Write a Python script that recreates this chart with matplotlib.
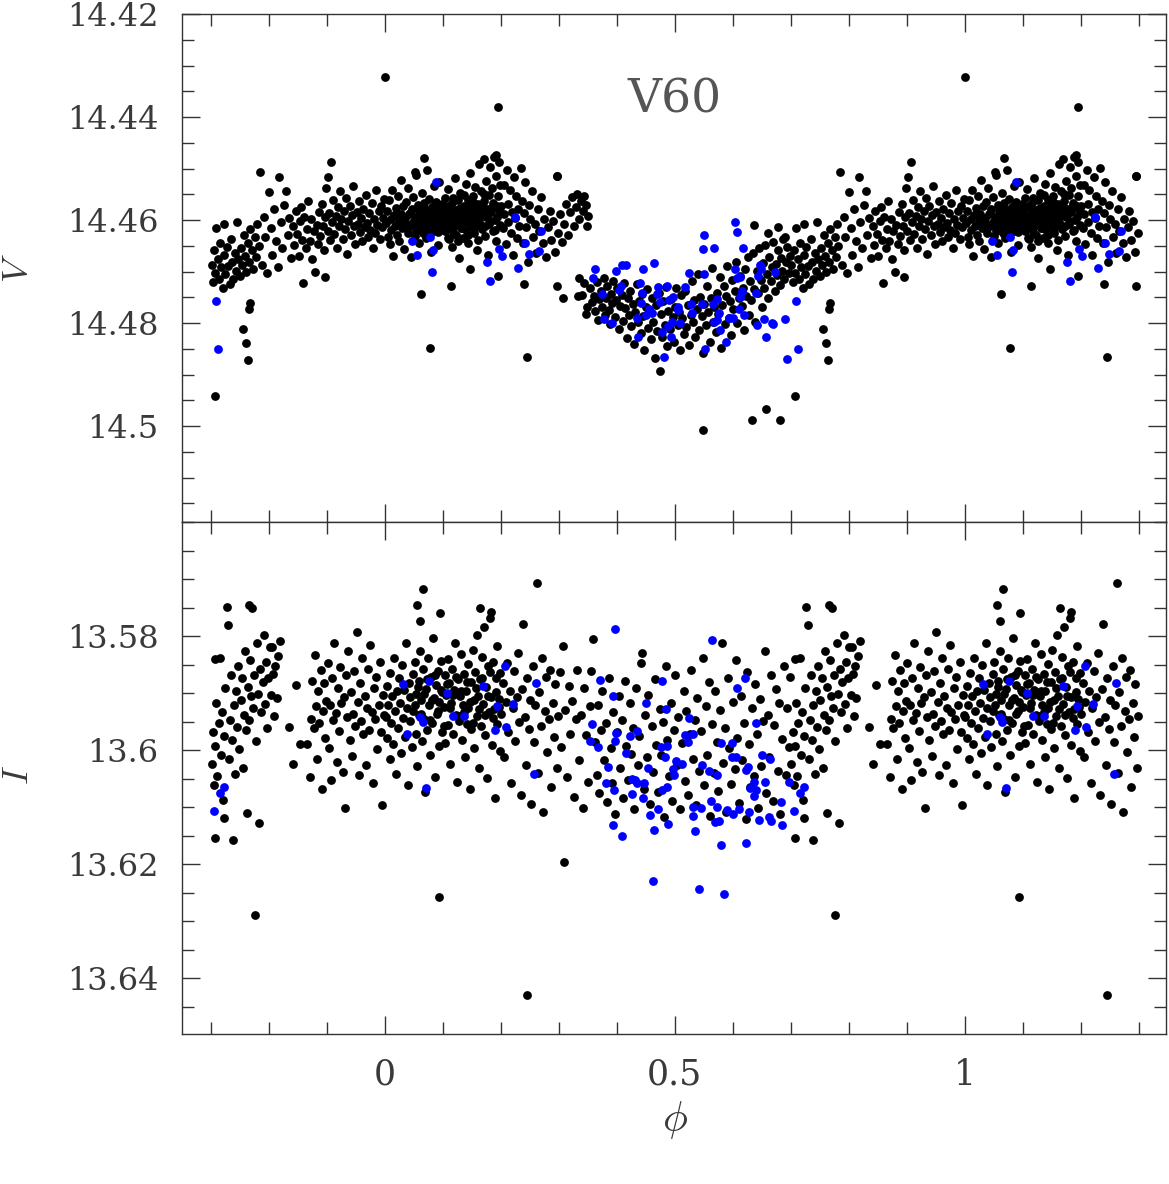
import numpy as np
import matplotlib
matplotlib.use("Agg")
import matplotlib.pyplot as plt
from matplotlib.ticker import FixedLocator, MultipleLocator, FuncFormatter

# ---------------- data (phase in [0,1), magnitude) ----------------
STAR = "V60"

V_MAX_BLACK = [
    (0.002,14.4605),(0.004,14.4583),(0.005,14.4632),(0.007,14.4561),(0.008,14.4647),(0.010,14.4598),
    (0.011,14.4619),(0.013,14.4542),(0.014,14.4669),(0.016,14.4591),(0.017,14.4612),(0.019,14.4576),
    (0.021,14.4628),(0.022,14.4553),(0.024,14.4601),(0.025,14.4641),(0.027,14.4588),(0.028,14.4522),
    (0.030,14.4615),(0.031,14.4573),(0.033,14.4657),(0.034,14.4596),(0.036,14.4607),(0.037,14.4564),
    (0.039,14.4625),(0.040,14.4538),(0.042,14.4589),(0.043,14.4611),(0.045,14.4672),(0.046,14.4579),
    (0.048,14.4603),(0.049,14.4556),(0.051,14.4631),(0.052,14.4594),(0.054,14.4512),(0.055,14.4618),
    (0.057,14.4571),(0.058,14.4644),(0.060,14.4597),(0.061,14.4585),(0.063,14.4609),(0.064,14.4548),
    (0.066,14.4626),(0.067,14.4567),(0.069,14.4592),(0.070,14.4635),(0.072,14.4503),(0.073,14.4581),
    (0.075,14.4613),(0.076,14.4559),(0.078,14.4598),(0.079,14.4662),(0.081,14.4574),(0.082,14.4606),
    (0.084,14.4533),(0.085,14.4621),(0.087,14.4587),(0.088,14.4564),(0.090,14.4602),(0.091,14.4648),
    (0.093,14.4578),(0.094,14.4527),(0.096,14.4595),(0.097,14.4616),(0.099,14.4569),
    (0.100,14.4601),(0.101,14.4583),(0.103,14.4622),(0.104,14.4558),(0.105,14.4611),(0.107,14.4594),
    (0.108,14.4539),(0.110,14.4637),(0.111,14.4576),(0.112,14.4605),(0.114,14.4589),(0.115,14.4652),
    (0.116,14.4567),(0.118,14.4613),(0.119,14.4596),(0.120,14.4518),(0.122,14.4628),(0.123,14.4581),
    (0.124,14.4604),(0.126,14.4561),(0.127,14.4673),(0.128,14.4592),(0.130,14.4547),(0.131,14.4615),
    (0.132,14.4586),(0.134,14.4603),(0.135,14.4634),(0.136,14.4572),(0.138,14.4598),(0.139,14.4529),
    (0.140,14.4619),(0.142,14.4583),(0.143,14.4561),(0.144,14.4644),(0.146,14.4595),(0.147,14.4508),
    (0.148,14.4578),(0.150,14.4612),(0.151,14.4589),(0.152,14.4554),(0.154,14.4626),(0.155,14.4597),
    (0.156,14.4535),(0.158,14.4581),(0.159,14.4659),(0.160,14.4568),(0.162,14.4491),(0.163,14.4604),
    (0.164,14.4576),(0.166,14.4543),(0.167,14.4618),(0.168,14.4587),(0.170,14.4482),(0.171,14.4562),
    (0.172,14.4631),(0.174,14.4594),(0.175,14.4524),(0.176,14.4579),(0.178,14.4668),(0.179,14.4551),
    (0.180,14.4607),(0.182,14.4496),(0.183,14.4585),(0.184,14.4538),(0.186,14.4622),(0.187,14.4566),
    (0.188,14.4477),(0.190,14.4599),(0.191,14.4515),(0.192,14.4641),(0.194,14.4572),(0.195,14.4553),
    (0.196,14.4488),(0.198,14.4609),(0.199,14.4532),
]

V_CORE_BLACK = [
    (0.032,14.4598),(0.038,14.4612),(0.044,14.4587),(0.050,14.4606),(0.053,14.4621),(0.059,14.4583),
    (0.062,14.4595),(0.065,14.4611),(0.068,14.4578),(0.071,14.4603),(0.074,14.4627),(0.077,14.4589),
    (0.080,14.4614),(0.083,14.4596),(0.086,14.4571),(0.089,14.4608),(0.092,14.4623),(0.095,14.4581),
    (0.098,14.4604),(0.102,14.4592),(0.106,14.4616),(0.109,14.4573),(0.113,14.4599),(0.117,14.4624),
    (0.121,14.4586),(0.125,14.4609),(0.129,14.4577),(0.133,14.4615),(0.137,14.4591),(0.141,14.4603),
    (0.145,14.4569),(0.149,14.4596),(0.153,14.4618),(0.157,14.4582),(0.161,14.4607),(0.165,14.4593),
    (0.169,14.4575),(0.173,14.4612),(0.177,14.4588),(0.181,14.4601),(0.185,14.4574),(0.189,14.4619),
    (0.193,14.4594),(0.197,14.4581),(0.109,14.4634),(0.126,14.4641),(0.143,14.4628),(0.160,14.4639),
    (0.118,14.4558),(0.137,14.4552),(0.152,14.4565),(0.171,14.4549),
]

V_DESC_BLACK = [
    (0.201,14.4572),(0.203,14.4615),(0.205,14.4531),(0.206,14.4589),(0.208,14.4647),(0.210,14.4502),
    (0.212,14.4568),(0.213,14.4603),(0.215,14.4541),(0.217,14.4625),(0.219,14.4584),(0.220,14.4668),
    (0.222,14.4517),(0.224,14.4596),(0.226,14.4553),(0.228,14.4634),(0.230,14.4579),(0.232,14.4611),
    (0.234,14.4498),(0.236,14.4562),(0.238,14.4645),(0.240,14.4587),(0.242,14.4526),(0.244,14.4613),
    (0.247,14.4681),(0.249,14.4571),(0.251,14.4598),(0.254,14.4544),(0.256,14.4632),(0.259,14.4607),
    (0.261,14.4663),(0.264,14.4579),(0.266,14.4621),(0.269,14.4556),(0.272,14.4645),(0.275,14.4597),
    (0.278,14.4672),(0.281,14.4613),(0.284,14.4583),(0.287,14.4639),(0.290,14.4602),(0.293,14.4661),
    (0.296,14.4515),(0.299,14.4626),(0.302,14.4588),(0.306,14.4643),(0.309,14.4607),(0.313,14.4569),
    (0.316,14.4628),(0.320,14.4585),(0.323,14.4556),(0.326,14.4612),(0.329,14.4574),(0.332,14.4549),
    (0.335,14.4597),(0.338,14.4562),(0.341,14.4583),(0.344,14.4554),(0.347,14.4571),(0.350,14.4593),
    (0.348,14.4612),(0.335,14.4712),(0.340,14.4745),(0.344,14.4723),(0.349,14.4768),(0.353,14.4732),
    (0.357,14.4759),(0.307,14.4751),(0.333,14.4747),(0.346,14.4783),(0.240,14.4725),(0.296,14.4728),
    (0.195,14.4709),(0.114,14.4728),(0.147,14.4695),
]

V_MIN_BLACK = [
    (0.361,14.4748),(0.363,14.4776),(0.366,14.4721),(0.368,14.4793),(0.370,14.4754),(0.372,14.4738),
    (0.375,14.4769),(0.377,14.4712),(0.379,14.4785),(0.381,14.4751),(0.383,14.4727),(0.386,14.4774),
    (0.388,14.4802),(0.390,14.4743),(0.392,14.4761),(0.394,14.4719),(0.397,14.4788),(0.399,14.4755),
    (0.401,14.4732),(0.403,14.4812),(0.406,14.4767),(0.408,14.4746),(0.410,14.4795),(0.412,14.4723),
    (0.414,14.4771),(0.417,14.4829),(0.419,14.4752),(0.421,14.4784),(0.423,14.4738),(0.425,14.4806),
    (0.428,14.4763),(0.430,14.4841),(0.432,14.4779),(0.434,14.4725),(0.436,14.4797),(0.439,14.4758),
    (0.441,14.4819),(0.443,14.4744),(0.445,14.4786),(0.447,14.4852),(0.450,14.4768),(0.452,14.4733),
    (0.454,14.4809),(0.456,14.4775),(0.458,14.4831),(0.461,14.4752),(0.463,14.4797),(0.465,14.4868),
    (0.467,14.4764),(0.469,14.4815),(0.472,14.4741),(0.474,14.4892),(0.476,14.4783),(0.478,14.4826),
    (0.480,14.4757),(0.483,14.4804),(0.485,14.4729),(0.487,14.4845),(0.489,14.4776),(0.491,14.4812),
    (0.494,14.4754),(0.496,14.4789),(0.498,14.4837),(0.500,14.4768),(0.502,14.4731),(0.505,14.4803),
    (0.507,14.4779),(0.509,14.4852),(0.511,14.4746),(0.513,14.4791),(0.516,14.4822),(0.518,14.4737),
    (0.520,14.4808),(0.522,14.4764),(0.524,14.4843),(0.527,14.4785),(0.529,14.4719),(0.531,14.4797),
    (0.533,14.4756),(0.535,14.4826),(0.538,14.4772),(0.540,14.4705),(0.542,14.4814),(0.544,14.4749),
    (0.546,14.4787),(0.549,14.4858),(0.551,14.4762),(0.553,14.4803),(0.555,14.4728),(0.557,14.4779),
    (0.560,14.4836),(0.562,14.4751),(0.564,14.4693),(0.566,14.4798),(0.568,14.4769),(0.571,14.4817),
    (0.573,14.4742),(0.575,14.4783),(0.577,14.4711),(0.579,14.4849),(0.582,14.4765),(0.584,14.4728),
    (0.586,14.4802),(0.588,14.4747),(0.590,14.4689),(0.593,14.4791),(0.595,14.4758),(0.597,14.4824),
    (0.599,14.4716),(0.601,14.4773),(0.604,14.4738),(0.606,14.4681),(0.608,14.4799),(0.610,14.4752),
    (0.612,14.4709),(0.615,14.4766),(0.617,14.4731),(0.619,14.4813),(0.621,14.4694),(0.623,14.4748),
    (0.626,14.4672),(0.628,14.4785),(0.630,14.4719),(0.632,14.4756),(0.634,14.4663),(0.637,14.4734),
    (0.639,14.4797),(0.641,14.4698),(0.643,14.4742),(0.645,14.4655),(0.648,14.4717),(0.650,14.4769),
    (0.652,14.4683),(0.654,14.4731),(0.656,14.4648),(0.659,14.4704),(0.661,14.4752),(0.663,14.4671),
    (0.665,14.4719),(0.667,14.4692),(0.670,14.4643),(0.672,14.4738),(0.674,14.4685),(0.676,14.4707),
    (0.678,14.4659),(0.681,14.4726),(0.683,14.4674),(0.685,14.4698),(0.687,14.4636),(0.689,14.4715),
    (0.692,14.4681),(0.694,14.4652),(0.696,14.4703),(0.698,14.4669),
    (0.636,14.4609),(0.660,14.4625),(0.678,14.4614),(0.690,14.4632),
]

V_RISE_BLACK = [
    (0.701,14.4688),(0.703,14.4721),(0.705,14.4659),(0.707,14.4702),(0.709,14.4616),(0.712,14.4676),
    (0.714,14.4714),(0.716,14.4645),(0.718,14.4692),(0.721,14.4731),(0.722,14.4607),(0.723,14.4668),
    (0.725,14.4705),(0.727,14.4652),(0.729,14.4689),(0.732,14.4724),(0.734,14.4637),(0.736,14.4681),
    (0.738,14.4715),(0.741,14.4663),(0.743,14.4698),(0.745,14.4604),(0.747,14.4676),(0.750,14.4709),
    (0.752,14.4654),(0.754,14.4687),(0.757,14.4628),(0.759,14.4669),(0.761,14.4701),(0.764,14.4645),
    (0.766,14.4682),(0.768,14.4617),(0.771,14.4658),(0.773,14.4694),(0.776,14.4633),(0.778,14.4672),
    (0.780,14.4607),(0.782,14.4651),(0.785,14.4507),(0.788,14.4688),(0.791,14.4594),(0.794,14.4632),
    (0.797,14.4703),(0.800,14.4546),(0.803,14.4615),(0.806,14.4667),(0.809,14.4578),(0.812,14.4641),
    (0.815,14.4692),(0.817,14.4517),(0.820,14.4603),(0.823,14.4654),(0.826,14.4571),(0.829,14.4544),
    (0.832,14.4628),(0.835,14.4595),(0.838,14.4673),(0.841,14.4612),(0.843,14.4648),(0.846,14.4583),
    (0.848,14.4627),(0.851,14.4669),(0.853,14.4601),(0.855,14.4574),(0.857,14.4638),(0.859,14.4722),
    (0.861,14.4594),(0.864,14.4655),(0.866,14.4617),(0.868,14.4563),(0.870,14.4641),(0.873,14.4598),
    (0.875,14.4676),(0.877,14.4622),(0.879,14.4701),(0.882,14.4609),(0.884,14.4647),(0.886,14.4585),
    (0.888,14.4631),(0.891,14.4568),(0.893,14.4612),(0.895,14.4659),(0.896,14.4710),(0.897,14.4594),
    (0.899,14.4537),(0.901,14.4621),(0.902,14.4517),(0.904,14.4586),(0.906,14.4639),(0.907,14.4487),
    (0.909,14.4603),(0.911,14.4561),(0.913,14.4627),(0.915,14.4592),(0.917,14.4654),(0.919,14.4574),
    (0.921,14.4611),(0.923,14.4543),(0.925,14.4598),(0.927,14.4636),(0.929,14.4582),(0.931,14.4617),
    (0.933,14.4558),(0.935,14.4665),(0.937,14.4601),(0.939,14.4573),(0.941,14.4628),(0.943,14.4591),
    (0.945,14.4534),(0.947,14.4612),(0.949,14.4647),(0.951,14.4585),(0.953,14.4607),(0.955,14.4562),
    (0.957,14.4623),(0.959,14.4596),(0.961,14.4641),(0.963,14.4578),(0.965,14.4613),(0.967,14.4551),
    (0.969,14.4605),(0.971,14.4632),(0.973,14.4587),(0.975,14.4619),(0.977,14.4566),(0.979,14.4654),
    (0.981,14.4598),(0.983,14.4625),(0.985,14.4541),(0.987,14.4609),(0.989,14.4583),(0.991,14.4637),
    (0.993,14.4572),(0.995,14.4614),(0.997,14.4595),(0.999,14.4559),
]

V_OUTLIERS = [
    (0.000,14.4322),(0.195,14.4380),(0.192,14.4474),(0.067,14.4480),(0.052,14.4507),(0.062,14.4744),
    (0.078,14.4849),(0.245,14.4866),(0.296,14.4515),(0.548,14.5008),(0.633,14.4988),(0.657,14.4967),
    (0.681,14.4988),(0.707,14.4942),(0.755,14.4812),(0.760,14.4839),(0.764,14.4872),(0.767,14.4761),
    (0.766,14.4773),
]

V_BLUE = [
    (0.047,14.4641),(0.078,14.4633),(0.083,14.4658),(0.055,14.4668),(0.081,14.4701),(0.088,14.4526),
    (0.176,14.4682),(0.181,14.4718),(0.197,14.4656),(0.202,14.4670),(0.224,14.4594),(0.229,14.4693),
    (0.241,14.4645),(0.248,14.4666),(0.266,14.4660),(0.269,14.4621),
    (0.359,14.4713),(0.362,14.4695),(0.374,14.4744),(0.377,14.4792),(0.391,14.4800),(0.399,14.4699),
    (0.407,14.4728),(0.404,14.4735),(0.409,14.4687),(0.415,14.4687),(0.434,14.4790),(0.436,14.4827),
    (0.440,14.4722),(0.441,14.4761),(0.443,14.4741),(0.445,14.4695),(0.450,14.4784),(0.455,14.4773),
    (0.460,14.4780),(0.464,14.4683),(0.471,14.4730),(0.470,14.4744),(0.474,14.4759),(0.477,14.4817),
    (0.481,14.4866),(0.486,14.4728),(0.488,14.4806),(0.490,14.4755),(0.493,14.4827),(0.495,14.4798),
    (0.497,14.4750),(0.505,14.4775),(0.506,14.4769),(0.508,14.4800),(0.517,14.4730),(0.524,14.4703),
    (0.528,14.4763),(0.529,14.4781),(0.547,14.4763),(0.548,14.4656),(0.550,14.4629),(0.551,14.4705),
    (0.552,14.4850),(0.565,14.4763),(0.567,14.4654),(0.567,14.4798),(0.572,14.4753),(0.572,14.4794),
    (0.576,14.4781),(0.578,14.4813),(0.589,14.4837),(0.593,14.4790),(0.600,14.4790),(0.603,14.4604),
    (0.603,14.4695),(0.607,14.4623),(0.607,14.4713),(0.612,14.4711),(0.612,14.4750),(0.615,14.4738),
    (0.610,14.4773),(0.617,14.4654),(0.620,14.4784),(0.640,14.4742),(0.641,14.4804),(0.643,14.4709),
    (0.647,14.4687),(0.648,14.4695),(0.653,14.4792),(0.657,14.4827),(0.667,14.4800),(0.670,14.4801),
    (0.672,14.4701),(0.690,14.4792),(0.693,14.4870),(0.709,14.4757),(0.712,14.4850),
]

I_MAX_BLACK = [
    (0.001,13.5942),(0.003,13.5887),(0.004,13.5978),(0.006,13.5921),(0.008,13.6015),(0.009,13.5864),
    (0.011,13.5953),(0.013,13.5906),(0.014,13.5989),(0.016,13.5838),(0.018,13.5931),(0.019,13.6042),
    (0.021,13.5897),(0.023,13.5962),(0.024,13.5874),(0.026,13.5918),(0.028,13.6006),(0.029,13.5851),
    (0.031,13.5944),(0.033,13.5895),(0.034,13.5977),(0.036,13.5812),(0.038,13.5926),(0.039,13.6061),
    (0.041,13.5883),(0.043,13.5949),(0.044,13.5907),(0.046,13.5995),(0.048,13.5866),(0.049,13.5932),
    (0.051,13.5846),(0.053,13.5971),(0.054,13.5901),(0.056,13.6028),(0.058,13.5878),(0.059,13.5939),
    (0.061,13.5827),(0.063,13.5912),(0.064,13.5984),(0.066,13.5857),(0.068,13.5946),(0.069,13.6073),
    (0.071,13.5893),(0.073,13.5964),(0.074,13.5838),(0.076,13.5921),(0.078,13.6009),(0.079,13.5872),
    (0.081,13.5953),(0.083,13.5804),(0.084,13.5908),(0.086,13.6047),(0.088,13.5886),(0.089,13.5937),
    (0.091,13.5861),(0.093,13.5992),(0.094,13.5915),(0.096,13.5843),(0.098,13.5968),(0.099,13.5899),
    (0.101,13.5924),(0.103,13.5869),(0.104,13.5987),(0.106,13.5903),(0.108,13.5841),(0.109,13.5956),
    (0.111,13.5882),(0.113,13.6024),(0.114,13.5917),(0.116,13.5858),(0.118,13.5971),(0.119,13.5894),
    (0.121,13.5813),(0.123,13.5938),(0.124,13.6056),(0.126,13.5876),(0.128,13.5949),(0.129,13.5905),
    (0.131,13.5832),(0.133,13.5982),(0.134,13.5921),(0.136,13.5867),(0.138,13.6013),(0.139,13.5896),
    (0.141,13.5954),(0.143,13.5849),(0.144,13.5927),(0.146,13.6068),(0.148,13.5881),(0.149,13.5963),
    (0.151,13.5824),(0.153,13.5912),(0.154,13.5996),(0.156,13.5863),(0.158,13.5941),(0.159,13.5798),
    (0.161,13.5905),(0.163,13.6031),(0.164,13.5875),(0.166,13.5958),(0.168,13.5836),(0.169,13.5919),
    (0.171,13.5785),(0.173,13.5973),(0.174,13.5889),(0.176,13.6049),(0.178,13.5852),(0.179,13.5934),
    (0.181,13.5769),(0.183,13.5907),(0.184,13.5991),(0.186,13.5846),(0.188,13.5928),(0.189,13.6084),
    (0.191,13.5873),(0.193,13.5955),(0.194,13.5817),(0.196,13.5911),(0.198,13.6002),(0.199,13.5864),
]

I_CORE_BLACK = [
    (0.052,13.5921),(0.057,13.5889),(0.062,13.5937),(0.067,13.5902),(0.072,13.5876),(0.077,13.5948),
    (0.082,13.5913),(0.087,13.5869),(0.092,13.5931),(0.097,13.5895),(0.102,13.5958),(0.107,13.5884),
    (0.112,13.5926),(0.117,13.5903),(0.122,13.5872),(0.127,13.5941),(0.132,13.5897),(0.137,13.5934),
    (0.142,13.5881),(0.147,13.5916),(0.152,13.5952),(0.157,13.5891),(0.162,13.5928),(0.167,13.5874),
    (0.172,13.5939),(0.177,13.5906),(0.182,13.5863),(0.187,13.5944),(0.192,13.5899),(0.197,13.5925),
]

I_DESC_BLACK = [
    (0.201,13.5937),(0.203,13.5882),(0.206,13.6012),(0.208,13.5915),(0.210,13.5848),(0.213,13.5968),
    (0.215,13.5896),(0.217,13.6057),(0.220,13.5926),(0.222,13.5861),(0.224,13.5984),(0.227,13.5907),
    (0.229,13.5829),(0.231,13.5951),(0.234,13.6079),(0.236,13.5893),(0.238,13.5779),(0.241,13.5942),
    (0.243,13.6026),(0.245,13.5874),(0.248,13.5963),(0.250,13.5912),(0.252,13.6094),(0.255,13.5853),
    (0.257,13.5986),(0.259,13.5921),(0.264,13.6041),(0.266,13.5898),(0.269,13.5957),(0.271,13.5838),
    (0.273,13.6108),(0.276,13.5931),(0.278,13.5872),(0.280,13.6003),(0.283,13.5946),(0.285,13.5859),
    (0.287,13.6065),(0.290,13.5918),(0.292,13.5977),(0.294,13.5884),(0.297,13.6032),(0.299,13.5941),
    (0.302,13.5863),(0.304,13.5995),(0.307,13.5818),(0.311,13.5929),(0.314,13.6048),(0.317,13.5887),
    (0.320,13.5972),(0.323,13.5914),(0.326,13.6083),(0.329,13.5946),(0.332,13.5859),(0.335,13.6017),
    (0.338,13.5938),(0.341,13.6102),(0.344,13.5891),(0.347,13.5974),(0.350,13.6056),(0.353,13.5923),
    (0.356,13.5862),(0.359,13.5805),
]

I_MIN_BLACK = [
    (0.362,13.5985),(0.365,13.6043),(0.367,13.5921),(0.370,13.6076),(0.373,13.5964),(0.375,13.5897),
    (0.378,13.6018),(0.381,13.5952),(0.383,13.6091),(0.386,13.5873),(0.389,13.5996),(0.392,13.6057),
    (0.394,13.5934),(0.397,13.6112),(0.400,13.5968),(0.403,13.5906),(0.405,13.6031),(0.408,13.5947),
    (0.411,13.6084),(0.414,13.5879),(0.416,13.5993),(0.419,13.6052),(0.422,13.5918),(0.425,13.6007),
    (0.427,13.5961),(0.430,13.6103),(0.433,13.5892),(0.436,13.6026),(0.438,13.5975),(0.441,13.5847),
    (0.443,13.5830),(0.446,13.6068),(0.449,13.5939),(0.452,13.6012),(0.454,13.5904),(0.457,13.6095),
    (0.460,13.5957),(0.463,13.6038),(0.465,13.5876),(0.468,13.5991),(0.471,13.6074),(0.474,13.5928),
    (0.476,13.6009),(0.479,13.5951),(0.482,13.6118),(0.484,13.5853),(0.487,13.5983),(0.490,13.6046),
    (0.493,13.5917),(0.495,13.6089),(0.498,13.5964),(0.501,13.5869),(0.504,13.6027),(0.506,13.5942),
    (0.509,13.6103),(0.512,13.5988),(0.515,13.5896),(0.517,13.6054),(0.520,13.5931),(0.523,13.6079),
    (0.526,13.5972),(0.528,13.5859),(0.531,13.6015),(0.534,13.5947),(0.537,13.6097),(0.539,13.5908),
    (0.542,13.6036),(0.545,13.5966),(0.548,13.5838),(0.550,13.6062),(0.553,13.5923),(0.556,13.6008),
    (0.559,13.5881),(0.561,13.6115),(0.564,13.5954),(0.567,13.6041),(0.570,13.5897),(0.572,13.5986),
    (0.575,13.6072),(0.578,13.5929),(0.581,13.5812),(0.583,13.6023),(0.586,13.5961),(0.589,13.6108),
    (0.592,13.5874),(0.594,13.5997),(0.597,13.6059),(0.600,13.5915),(0.603,13.6034),(0.605,13.5842),
    (0.608,13.5978),(0.611,13.6093),(0.614,13.5906),(0.616,13.6017),(0.619,13.5952),(0.622,13.6121),
    (0.625,13.5863),(0.627,13.5989),(0.630,13.6064),(0.633,13.5927),(0.636,13.6045),(0.638,13.5884),
    (0.641,13.5972),(0.644,13.6101),(0.647,13.5911),(0.649,13.6028),(0.652,13.5949),(0.655,13.5827),
    (0.658,13.6076),(0.660,13.5938),(0.663,13.6012),(0.666,13.5869),(0.669,13.6089),(0.671,13.5956),
    (0.674,13.5893),(0.677,13.6037),(0.680,13.5918),(0.682,13.6113),(0.685,13.5981),(0.688,13.5852),
    (0.691,13.6043),(0.693,13.5926),(0.696,13.5994),(0.699,13.5871),
]

I_RISE_BLACK = [
    (0.701,13.6024),(0.703,13.5968),(0.705,13.6061),(0.707,13.5993),(0.709,13.5917),(0.711,13.6045),
    (0.713,13.5952),(0.715,13.5839),(0.717,13.6008),(0.719,13.5934),(0.721,13.6087),(0.723,13.5976),
    (0.725,13.5892),(0.731,13.6015),(0.733,13.5947),(0.735,13.5868),(0.737,13.5983),(0.739,13.5921),
    (0.741,13.6042),(0.743,13.5896),(0.745,13.5959),(0.747,13.5853),(0.749,13.5998),(0.751,13.5912),
    (0.753,13.5874),(0.755,13.6031),(0.757,13.5938),(0.759,13.5826),(0.761,13.5965),(0.763,13.5889),
    (0.765,13.5947),(0.767,13.5842),(0.769,13.5906),(0.773,13.5927),(0.775,13.5868),(0.777,13.5984),
    (0.779,13.5813),(0.781,13.5902),(0.785,13.5857),(0.787,13.5934),(0.789,13.5881),(0.791,13.5798),
    (0.793,13.5919),(0.795,13.5846),(0.797,13.5962),(0.799,13.5874),(0.801,13.5819),(0.803,13.5903),
    (0.807,13.5867),(0.809,13.5941),(0.811,13.5852),(0.813,13.5908),(0.815,13.5835),
    (0.834,13.5960),(0.841,13.6025),(0.847,13.5886),(0.853,13.5989),(0.866,13.5989),
    (0.871,13.6047),(0.873,13.5945),(0.875,13.5878),(0.877,13.5961),(0.879,13.5834),(0.881,13.5923),
    (0.883,13.6015),(0.885,13.5896),(0.887,13.5952),(0.889,13.5859),(0.891,13.6068),(0.893,13.5931),
    (0.895,13.5882),(0.897,13.5978),(0.899,13.5914),(0.901,13.5847),(0.903,13.5996),(0.905,13.5921),
    (0.907,13.6052),(0.909,13.5873),(0.911,13.5948),(0.913,13.5812),(0.915,13.5935),(0.917,13.6021),
    (0.919,13.5891),(0.921,13.5967),(0.923,13.5854),(0.925,13.5918),(0.927,13.6039),(0.929,13.5907),
    (0.931,13.6101),(0.933,13.5869),(0.935,13.5942),(0.937,13.5826),(0.939,13.5983),(0.941,13.5898),
    (0.943,13.6011),(0.945,13.5937),(0.947,13.5861),(0.949,13.5958),(0.951,13.5793),(0.953,13.5916),
    (0.955,13.6044),(0.957,13.5883),(0.959,13.5949),(0.961,13.5838),(0.963,13.5972),(0.965,13.5905),
    (0.967,13.6026),(0.969,13.5927),(0.971,13.5857),(0.973,13.5964),(0.975,13.5816),(0.977,13.5933),
    (0.979,13.6058),(0.981,13.5891),(0.983,13.5946),(0.985,13.5872),(0.987,13.5999),(0.989,13.5921),
    (0.991,13.5845),(0.993,13.5968),(0.995,13.6097),(0.997,13.5904),(0.999,13.5939),
]

I_OUTLIERS = [
    (0.066,13.5718),(0.055,13.5746),(0.060,13.5774),(0.095,13.5760),(0.093,13.6258),(0.164,13.5750),
    (0.183,13.5757),(0.262,13.5707),(0.309,13.6196),(0.245,13.6430),(0.727,13.5749),(0.729,13.5781),
    (0.771,13.5751),(0.707,13.5840),(0.819,13.5809),(0.805,13.5820),(0.738,13.6158),(0.783,13.6128),
    (0.762,13.6111),(0.722,13.6119),(0.707,13.6154),(0.776,13.6290),(0.766,13.5746),
]

I_BLUE = [
    (0.031,13.5884),(0.038,13.5972),(0.061,13.5942),(0.065,13.5951),(0.071,13.6067),(0.076,13.5879),
    (0.107,13.5900),(0.117,13.5940),(0.136,13.5940),(0.169,13.5888),(0.190,13.5965),(0.193,13.5923),
    (0.207,13.5853),(0.209,13.5960),(0.221,13.5919),(0.257,13.6042),(0.260,13.5882),
    (0.353,13.5984),(0.357,13.5954),(0.367,13.5995),(0.371,13.5877),(0.381,13.6058),(0.385,13.6030),
    (0.393,13.5905),(0.393,13.6132),(0.395,13.6070),(0.397,13.5788),(0.397,13.5984),(0.398,13.5970),
    (0.409,13.6151),(0.416,13.6005),(0.422,13.5975),(0.426,13.6050),(0.426,13.6077),(0.431,13.6053),
    (0.434,13.6057),(0.435,13.5967),(0.445,13.6084),(0.447,13.6058),(0.450,13.5918),(0.453,13.6032),
    (0.457,13.6114),(0.462,13.6230),(0.464,13.6140),(0.471,13.6104),(0.476,13.5995),(0.478,13.5879),
    (0.478,13.6070),(0.483,13.6012),(0.484,13.5928),(0.486,13.5992),(0.486,13.6065),(0.488,13.6130),
    (0.497,13.6033),(0.498,13.6044),(0.502,13.6019),(0.512,13.6025),(0.517,13.5974),(0.522,13.5986),
    (0.524,13.5944),(0.531,13.6100),(0.532,13.5972),(0.532,13.6116),(0.534,13.6142),(0.541,13.6244),
    (0.545,13.6102),(0.546,13.6026),(0.559,13.6037),(0.562,13.6090),(0.564,13.5807),(0.569,13.6126),
    (0.572,13.6044),(0.572,13.6100),(0.576,13.6124),(0.579,13.5987),(0.579,13.6167),(0.584,13.6253),
    (0.590,13.6105),(0.598,13.5987),(0.598,13.6012),(0.600,13.6112),(0.605,13.6012),(0.607,13.5891),
    (0.610,13.6103),(0.621,13.5874),(0.622,13.6035),(0.622,13.6163),(0.626,13.6030),(0.628,13.6109),
    (0.630,13.6067),(0.636,13.6056),(0.636,13.6081),(0.640,13.5953),(0.640,13.6070),(0.645,13.6123),
    (0.650,13.6009),(0.655,13.6056),(0.662,13.6117),(0.664,13.6016),(0.666,13.6124),(0.683,13.6091),
    (0.684,13.6132),(0.697,13.6056),(0.705,13.6107),(0.716,13.6075),(0.722,13.6065),
]

V_TICKS = [14.42, 14.44, 14.46, 14.48, 14.50]
I_TICKS = [13.58, 13.60, 13.62, 13.64]
PHASE_TICKS = [0.0, 0.5, 1.0]


def wrapped(*groups):
    arr = np.array([pt for g in groups for pt in g], dtype=float)
    p, m = arr[:, 0], arr[:, 1]
    lo = p >= 0.7
    hi = p < 0.3
    x = np.concatenate([p, p[lo] - 1.0, p[hi] + 1.0])
    y = np.concatenate([m, m[lo], m[hi]])
    return x, y


plt.rcParams["mathtext.fontset"] = "cm"
TXT = "#3a3a3a"
W, H = 1169, 1184
fig = plt.figure(figsize=(W / 100, H / 100), dpi=100)

L, R = 182 / W, 1166 / W
ax_v = fig.add_axes([L, 1 - 522 / H, R - L, (522 - 14) / H])
ax_i = fig.add_axes([L, 1 - 1034 / H, R - L, (1034 - 522) / H])

MS = 40
for ax, black, blue in (
    (ax_v, (V_MAX_BLACK, V_CORE_BLACK, V_DESC_BLACK, V_MIN_BLACK, V_RISE_BLACK, V_OUTLIERS), (V_BLUE,)),
    (ax_i, (I_MAX_BLACK, I_CORE_BLACK, I_DESC_BLACK, I_MIN_BLACK, I_RISE_BLACK, I_OUTLIERS), (I_BLUE,)),
):
    xb, yb = wrapped(*black)
    ax.scatter(xb, yb, s=MS, c="black", linewidths=0, zorder=2)
    xl, yl = wrapped(*blue)
    ax.scatter(xl, yl, s=MS, c="#0000ff", linewidths=0, zorder=3)
    ax.set_xlim(-0.35, 1.347)
    ax.xaxis.set_major_locator(FixedLocator(PHASE_TICKS))
    ax.xaxis.set_minor_locator(MultipleLocator(0.1))
    ax.yaxis.set_minor_locator(MultipleLocator(0.005))
    ax.tick_params(which="both", direction="in", top=True, right=True, width=1.0,
                   color="#333333", labelsize=23, labelcolor=TXT, pad=17)
    ax.tick_params(which="major", length=13)
    ax.tick_params(which="minor", length=8.5)
    for sp in ax.spines.values():
        sp.set_linewidth(1.0)
        sp.set_color("#333333")

fmt = FuncFormatter(lambda v, pos: "{:g}".format(round(v, 4)))
ax_v.set_ylim(14.5186, 14.42)
ax_v.yaxis.set_major_locator(FixedLocator(V_TICKS))
ax_v.yaxis.set_major_formatter(fmt)
ax_v.tick_params(labelbottom=False)

ax_i.set_ylim(13.6498, 13.56)
ax_i.yaxis.set_major_locator(FixedLocator(I_TICKS))
ax_i.yaxis.set_major_formatter(fmt)
ax_i.xaxis.set_major_formatter(fmt)
ax_i.tick_params(axis="x", labelsize=25)

for ax in (ax_v, ax_i):
    for lab in ax.get_yticklabels() + ax.get_xticklabels():
        lab.set_family("DejaVu Serif")

fig.text(675 / W, 1 - 100 / H, STAR, ha="center", va="center", fontsize=34,
         family="DejaVu Serif", color="#555555")
fig.text(18 / W, 1 - 268 / H, r"$V$", ha="center", va="center", rotation=90,
         fontsize=26, color=TXT)
fig.text(18 / W, 1 - 775 / H, r"$I$", ha="center", va="center", rotation=90,
         fontsize=26, color=TXT)
fig.text(675 / W, 1 - 1120 / H, r"$\phi$", ha="center", va="center",
         fontsize=30, color=TXT)

fig.savefig("out.png", dpi=100)
